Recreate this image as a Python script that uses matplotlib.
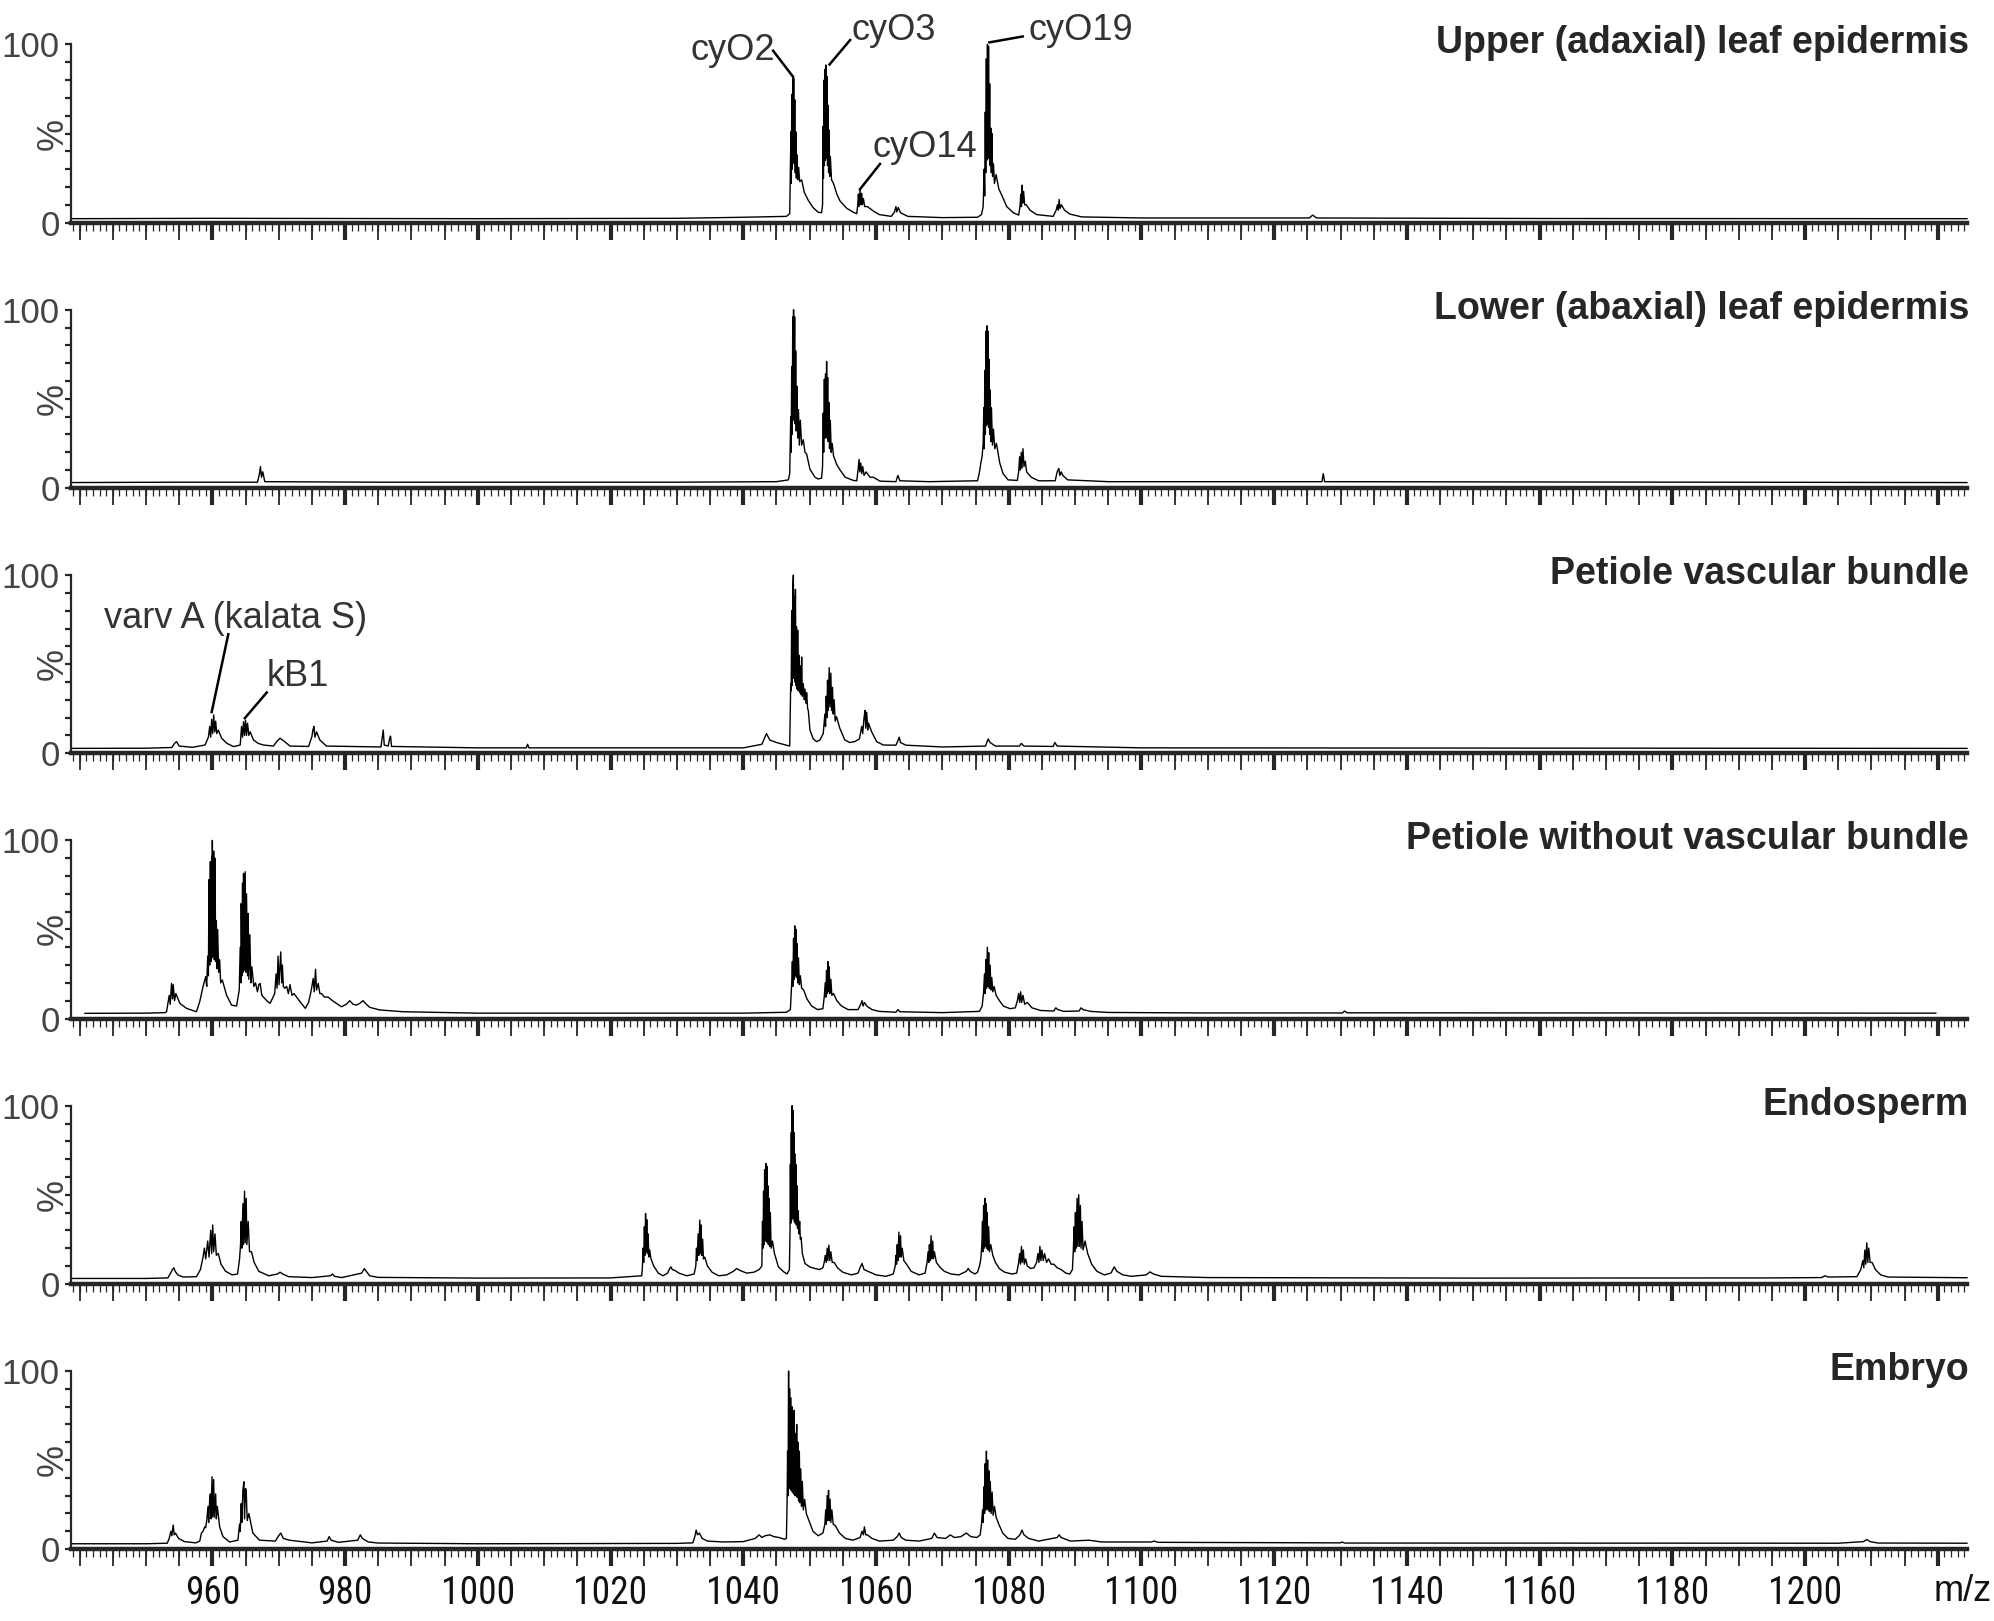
import matplotlib
matplotlib.use('Agg')
import matplotlib.pyplot as plt
from matplotlib import font_manager
from matplotlib.ticker import MultipleLocator, FixedLocator

plt.rcParams['font.family'] = ['Liberation Sans', 'DejaVu Sans']

# m/z range of all panels
mz_min, mz_max = 938.7, 1224.4

# spectra as (m/z, relative intensity %)
upper_epidermis = [
    (938.7, 2.2), (960, 2.4), (1000, 2.2), (1030, 2.4), (1040, 3), (1046.5, 3.5), (1047.0, 5),
    (1047.1, 30), (1047.18, 51), (1047.24, 22), (1047.32, 72), (1047.38, 30), (1047.46, 82), (1047.52, 35),
    (1047.6, 81), (1047.68, 33), (1047.76, 69), (1047.84, 28), (1047.92, 51), (1048.0, 25), (1048.1, 38),
    (1048.2, 24), (1048.35, 31), (1048.5, 23), (1048.8, 24), (1049.2, 17), (1049.8, 12.5), (1050.5, 8.5),
    (1051.3, 5.8), (1051.8, 5.5),
    (1051.95, 10), (1052.02, 54), (1052.08, 25), (1052.16, 80), (1052.22, 32), (1052.3, 86), (1052.37, 35),
    (1052.46, 88.5), (1052.54, 36), (1052.62, 82), (1052.7, 32), (1052.78, 66), (1052.86, 28), (1052.94, 52),
    (1053.02, 26), (1053.12, 37), (1053.3, 24), (1053.6, 22), (1054.1, 16), (1054.6, 12), (1055.6, 8),
    (1056.6, 5.8), (1057.1, 5),
    (1057.25, 10), (1057.35, 16), (1057.45, 9), (1057.6, 18.5), (1057.7, 10), (1057.85, 16.5), (1057.95, 10),
    (1058.1, 13.5), (1058.3, 9), (1058.7, 9), (1059.6, 6.5), (1060.5, 4.5), (1062.3, 3.5),
    (1062.8, 6), (1063.0, 9), (1063.15, 6), (1063.35, 8.5), (1063.7, 5.5), (1064.8, 3.5), (1070, 2.8),
    (1075.3, 3), (1075.9, 4.5),
    (1076.15, 9), (1076.3, 30), (1076.38, 15), (1076.47, 62), (1076.54, 28), (1076.63, 92), (1076.7, 35),
    (1076.8, 100), (1076.88, 38), (1076.96, 99), (1077.04, 36), (1077.13, 78), (1077.21, 32), (1077.3, 53),
    (1077.38, 28), (1077.47, 50), (1077.57, 26), (1077.7, 33), (1077.85, 22), (1078.1, 27), (1078.5, 19),
    (1079.0, 15), (1079.7, 9), (1080.7, 5.5), (1081.5, 4.2),
    (1081.7, 9), (1081.82, 16), (1081.92, 9), (1082.02, 21), (1082.12, 11), (1082.25, 17.5), (1082.4, 10),
    (1082.65, 10), (1083.2, 7), (1084.2, 4.5), (1086.7, 3.5),
    (1087.15, 7), (1087.35, 10), (1087.48, 7), (1087.6, 13), (1087.75, 8), (1087.95, 10), (1088.4, 7),
    (1089.2, 4.8), (1091, 3.2), (1100, 2.6), (1125.3, 2.6), (1125.8, 4.2), (1126.4, 2.6), (1160, 2.3),
    (1224.4, 2.2),
]

lower_epidermis = [
    (938.7, 3), (955, 3.2), (966.8, 3.2), (967.1, 8), (967.25, 12), (967.4, 6), (967.6, 9), (967.9, 3.5),
    (985, 3.2), (1000, 3.2), (1030, 3.2), (1045, 3.5), (1046.8, 4.5),
    (1047.0, 8), (1047.15, 40), (1047.22, 20), (1047.3, 68), (1047.37, 30), (1047.46, 96), (1047.52, 38),
    (1047.58, 100), (1047.65, 40), (1047.74, 96), (1047.82, 36), (1047.9, 77), (1047.98, 32), (1048.1, 57),
    (1048.2, 28), (1048.32, 44), (1048.45, 24), (1048.6, 38), (1048.8, 24), (1049.05, 27), (1049.3, 20),
    (1049.55, 19), (1050.05, 10.5), (1050.8, 6), (1051.3, 5), (1051.8, 5.5),
    (1051.95, 12), (1052.05, 42), (1052.12, 20), (1052.22, 61), (1052.3, 28), (1052.4, 64), (1052.47, 28),
    (1052.56, 71), (1052.64, 30), (1052.72, 62), (1052.8, 26), (1052.9, 48), (1053.0, 22), (1053.12, 38),
    (1053.25, 20), (1053.4, 25), (1053.6, 18), (1054.1, 13), (1054.6, 10), (1055.35, 6), (1056.6, 4.2),
    (1057.1, 4),
    (1057.3, 10), (1057.45, 16), (1057.55, 9), (1057.7, 14), (1057.85, 8), (1058.0, 12), (1058.2, 7),
    (1058.5, 9), (1059.1, 6), (1059.6, 6), (1060.6, 3.8), (1063.0, 3.5), (1063.3, 7), (1063.6, 4),
    (1068, 3.5), (1075.3, 4), (1075.6, 9), (1075.8, 14), (1076.0, 18),
    (1076.15, 25), (1076.25, 45), (1076.32, 22), (1076.4, 66), (1076.48, 30), (1076.57, 88), (1076.64, 35),
    (1076.72, 91), (1076.8, 36), (1076.88, 88), (1076.96, 34), (1077.05, 72), (1077.13, 30), (1077.22, 55),
    (1077.3, 26), (1077.4, 45), (1077.55, 24), (1077.7, 33), (1077.9, 22), (1078.15, 25), (1078.65, 14),
    (1079.15, 8), (1079.9, 4.5), (1081.3, 4.2),
    (1081.5, 9), (1081.65, 17.5), (1081.75, 10), (1081.9, 20), (1082.0, 11), (1082.15, 22), (1082.3, 12),
    (1082.5, 15), (1082.7, 9), (1083.4, 6), (1084.5, 4), (1087.0, 4), (1087.3, 9), (1087.55, 11),
    (1087.7, 7), (1087.9, 9), (1088.15, 7), (1088.9, 4.5), (1095, 3.5), (1127.2, 3.5), (1127.4, 8),
    (1127.6, 3.5), (1224.4, 3),
]

petiole_vascular = [
    (938.7, 2.7), (950, 2.8), (953.9, 3.2), (954.3, 5.5), (954.6, 6.5), (955.0, 4), (957, 3.3), (958.9, 4.6),
    (959.4, 9), (959.6, 15), (959.75, 9), (959.9, 19), (960.05, 11), (960.2, 21.5), (960.35, 12),
    (960.5, 18), (960.65, 11), (960.9, 13), (961.4, 8.4), (962.2, 5.5), (963.2, 3.7), (964.2, 4.6),
    (964.4, 15), (964.55, 9), (964.7, 17.7), (964.85, 10), (965.0, 18.6), (965.15, 10), (965.3, 16.8),
    (965.5, 10), (965.7, 12), (966.2, 7.4), (966.9, 5.5), (967.7, 4.6), (969.2, 4), (969.7, 6.5),
    (970.2, 8.4), (970.9, 6.5), (971.7, 4), (974.5, 3.8), (975.0, 9.3), (975.15, 13), (975.3, 15),
    (975.45, 9), (975.7, 12), (976.2, 7.4), (977.2, 4), (985.4, 3.5), (985.6, 9), (985.75, 13),
    (985.9, 4.6), (986.5, 4), (986.7, 8), (986.85, 9.6), (987.0, 3.8), (1000, 3), (1007.3, 3),
    (1007.5, 5), (1007.7, 3), (1040, 3), (1042.8, 5), (1043.5, 11), (1044.0, 7.4), (1045, 6),
    (1046.5, 4.5), (1047.0, 4),
    (1047.1, 25), (1047.15, 39), (1047.22, 35), (1047.3, 80), (1047.38, 38), (1047.46, 92), (1047.55, 100),
    (1047.62, 42), (1047.7, 88), (1047.78, 40), (1047.86, 92), (1047.94, 38), (1048.02, 71), (1048.12, 36),
    (1048.2, 69), (1048.3, 35), (1048.4, 55), (1048.5, 34), (1048.6, 49), (1048.7, 33), (1048.8, 54),
    (1048.9, 32), (1049.05, 39), (1049.2, 30), (1049.3, 36), (1049.45, 28), (1049.55, 34), (1049.7, 25),
    (1049.8, 24), (1050.05, 13), (1050.55, 8), (1051.05, 6.5), (1051.55, 7.4),
    (1052.05, 11), (1052.3, 22), (1052.4, 15), (1052.5, 32), (1052.6, 20), (1052.7, 41), (1052.8, 24),
    (1052.95, 48), (1053.05, 26), (1053.2, 45), (1053.3, 24), (1053.45, 37), (1053.55, 22), (1053.7, 30),
    (1053.85, 18), (1054.05, 20.5), (1054.55, 14), (1055.3, 7.4), (1056.05, 6), (1056.8, 6.5), (1057.5, 8),
    (1057.85, 15), (1058.0, 11), (1058.2, 20), (1058.35, 24), (1058.45, 14), (1058.6, 23), (1058.75, 13),
    (1058.85, 17), (1059.35, 12), (1060.1, 6.5), (1061.1, 4.6), (1063.0, 4.5), (1063.3, 7), (1063.5, 9),
    (1063.7, 6), (1064.5, 4.5), (1070, 3.5), (1076.5, 4), (1076.8, 7), (1076.9, 8), (1077.2, 6),
    (1078, 4), (1081.6, 4), (1081.9, 5.5), (1082.3, 4), (1086.7, 3.8), (1086.95, 6), (1087.3, 4),
    (1100, 3), (1224.4, 2.7),
]

petiole_no_vascular = [
    (940.8, 2.9), (950, 3.0), (952.9, 3.3), (953.1, 3.8), (953.5, 13), (953.65, 8), (953.85, 19.7),
    (954.0, 11), (954.1, 19), (954.3, 10), (954.5, 14), (955.1, 8.5), (956.1, 5.7), (957.6, 3.8),
    (958.1, 9.5), (958.6, 18), (959.0, 23.5), (959.15, 18), (959.3, 35), (959.4, 24), (959.5, 78),
    (959.6, 30), (959.7, 88), (959.8, 32), (959.9, 91), (959.95, 34), (960.0, 100), (960.1, 35),
    (960.2, 94), (960.3, 33), (960.4, 90), (960.5, 32), (960.6, 55), (960.7, 28), (960.8, 50),
    (960.95, 26), (961.1, 33), (961.25, 20), (961.5, 21.6), (962.15, 13), (962.9, 7.5), (963.65, 7),
    (964.05, 16),
    (964.2, 40), (964.3, 20), (964.35, 64.6), (964.45, 24), (964.55, 76), (964.62, 26), (964.7, 81.5),
    (964.8, 27), (964.95, 82.4), (965.05, 26), (965.15, 70), (965.3, 24), (965.4, 59), (965.5, 22),
    (965.65, 47), (965.8, 20), (965.95, 29), (966.25, 18), (966.5, 20), (966.8, 15), (967.0, 19),
    (967.2, 19.7), (967.45, 13), (967.7, 12), (968.2, 10), (968.7, 8.5), (969.4, 14), (969.6, 25),
    (969.75, 17), (969.9, 35), (970.05, 19), (970.3, 37.4), (970.45, 20), (970.55, 30), (970.7, 18),
    (970.9, 17), (971.2, 18), (971.45, 14), (971.7, 19), (972.0, 13), (972.3, 14), (973.2, 9.5),
    (974.0, 5.7), (974.5, 9), (974.8, 14), (975.0, 18), (975.2, 22.5), (975.35, 15), (975.55, 27.6),
    (975.7, 16), (975.95, 19.7), (976.2, 14), (976.45, 14), (976.9, 12), (977.45, 12), (978.1, 10),
    (978.7, 8.5), (979.45, 6.6), (980.2, 8), (980.7, 10), (981.2, 8), (981.7, 7.5), (982.2, 8.5),
    (982.7, 10), (983.2, 8), (983.7, 6.3), (985.2, 4.8), (988.75, 3.8), (1000, 3.0), (1040, 3.0),
    (1046.5, 3.5), (1047.1, 5),
    (1047.3, 20), (1047.4, 32), (1047.48, 18), (1047.58, 45), (1047.66, 22), (1047.76, 52), (1047.84, 24),
    (1047.94, 50), (1048.02, 23), (1048.12, 42), (1048.22, 20), (1048.32, 34), (1048.45, 19), (1048.6, 24),
    (1048.8, 17), (1049.1, 16), (1049.6, 11), (1050.3, 7), (1051.2, 5), (1052.0, 5.5),
    (1052.2, 12), (1052.35, 20), (1052.45, 12), (1052.55, 27), (1052.65, 14), (1052.75, 32), (1052.85, 15),
    (1052.95, 29), (1053.05, 14), (1053.2, 22), (1053.35, 13), (1053.6, 14), (1054.1, 10), (1054.8, 7),
    (1055.8, 5), (1057.3, 5),
    (1057.7, 8), (1057.9, 10), (1058.05, 7), (1058.25, 9), (1058.6, 7), (1059.4, 5), (1060.5, 4),
    (1063.0, 3.5), (1063.3, 5), (1063.6, 3.8), (1070, 3.3), (1075.6, 4), (1076.0, 7),
    (1076.2, 14), (1076.35, 25), (1076.45, 14), (1076.55, 33), (1076.65, 17), (1076.78, 40), (1076.88, 18),
    (1076.98, 37), (1077.08, 17), (1077.2, 30), (1077.32, 16), (1077.45, 23), (1077.6, 15), (1077.8, 18),
    (1078.1, 13), (1078.6, 10), (1079.2, 7), (1080.2, 5.5), (1081.0, 6),
    (1081.3, 10), (1081.5, 14), (1081.65, 9), (1081.8, 15), (1081.95, 9), (1082.15, 13), (1082.4, 8),
    (1082.8, 9), (1083.5, 6), (1084.8, 4.5), (1086.8, 4.2), (1087.1, 6), (1087.4, 5), (1088.3, 4),
    (1090.6, 4.2), (1090.9, 6), (1091.2, 5), (1092.3, 4), (1095, 3.4), (1110, 3.1), (1130.3, 3.1),
    (1130.6, 4.2), (1131.0, 3.2), (1219.7, 3.0),
]

endosperm = [
    (938.7, 3.0), (950, 3.0), (953.3, 3.3), (953.7, 6), (954.0, 8), (954.2, 9), (954.4, 7), (954.8, 5),
    (955.6, 3.8), (957.6, 4), (958.2, 8), (958.6, 15), (958.8, 20), (959.0, 14), (959.3, 24), (959.5, 15),
    (959.75, 30), (959.9, 17), (960.05, 33), (960.2, 18), (960.4, 28), (960.6, 16), (960.9, 17),
    (961.3, 11), (962.0, 7), (963.0, 5), (963.8, 5.5), (964.1, 14), (964.25, 22), (964.35, 35),
    (964.45, 20), (964.6, 45), (964.7, 22), (964.85, 52), (964.95, 23), (965.1, 48), (965.2, 22),
    (965.4, 35), (965.6, 18), (965.9, 18), (966.3, 12), (967, 7), (968.5, 4.5), (969.8, 5.5),
    (970.2, 6.5), (970.6, 5.5), (971.5, 4), (975, 3.5), (977.8, 4.5), (978.1, 5.5), (978.4, 4.2),
    (979.5, 3.5), (982.5, 6), (982.9, 8.5), (983.2, 7), (983.7, 4.5), (985, 3.6), (1000, 3.2),
    (1020, 3.3), (1024.7, 4.5),
    (1024.8, 9), (1024.9, 20), (1025.0, 12), (1025.1, 32), (1025.18, 16), (1025.28, 39.5), (1025.36, 18),
    (1025.46, 36), (1025.56, 17), (1025.66, 28), (1025.78, 15), (1025.9, 19), (1026.1, 14), (1026.5, 10),
    (1027.2, 6), (1027.9, 4.5),
    (1028.6, 6), (1028.9, 8.5), (1029.1, 9.5), (1029.3, 8), (1029.7, 7.5), (1030.3, 6), (1031.5, 4.5),
    (1032.6, 5.5),
    (1032.85, 10), (1032.95, 20), (1033.05, 13), (1033.2, 28), (1033.3, 16), (1033.45, 35.8), (1033.55, 17),
    (1033.65, 33), (1033.75, 16), (1033.88, 25), (1034.0, 14), (1034.2, 15), (1034.6, 10), (1035.3, 6.5),
    (1036.3, 4.5), (1037.5, 5), (1038.5, 7), (1039.0, 8.6), (1039.5, 7.5), (1040.5, 6), (1041.6, 6.5),
    (1042.4, 8), (1042.8, 10),
    (1042.9, 35), (1042.98, 20), (1043.06, 52), (1043.14, 22), (1043.22, 64), (1043.3, 24), (1043.4, 67.6),
    (1043.48, 24), (1043.56, 66), (1043.64, 23), (1043.72, 55), (1043.8, 22), (1043.88, 48), (1043.98, 21),
    (1044.08, 40), (1044.2, 20), (1044.4, 24), (1044.7, 17), (1045.3, 9.5), (1046.1, 6.7), (1046.6, 5.5),
    (1046.95, 8),
    (1047.05, 30), (1047.1, 67), (1047.16, 34), (1047.24, 85), (1047.3, 36), (1047.36, 100), (1047.42, 38),
    (1047.48, 97.5), (1047.55, 37), (1047.62, 85), (1047.7, 35), (1047.76, 73), (1047.84, 34), (1047.92, 67),
    (1048.0, 33), (1048.1, 55), (1048.18, 31), (1048.28, 41), (1048.38, 28), (1048.5, 35), (1048.6, 25),
    (1048.72, 26), (1048.9, 17), (1049.3, 11.4), (1050.0, 9.5), (1050.8, 8.6), (1051.5, 8), (1052.0, 9),
    (1052.2, 12), (1052.35, 16), (1052.5, 12), (1052.65, 20), (1052.75, 13), (1052.9, 21.7), (1053.05, 13),
    (1053.2, 18), (1053.4, 12), (1053.7, 12), (1054.2, 9), (1055.0, 6.5), (1056.3, 5), (1057.3, 6),
    (1057.6, 9), (1057.9, 11.4), (1058.2, 8), (1058.8, 7), (1060.0, 5), (1061.5, 4.2), (1062.6, 5.5),
    (1062.9, 10),
    (1063.0, 16), (1063.1, 11), (1063.2, 22), (1063.3, 13), (1063.45, 29), (1063.55, 15), (1063.7, 27),
    (1063.8, 15), (1063.95, 20), (1064.2, 13), (1064.6, 11), (1065.3, 7), (1066.5, 5), (1067.4, 6),
    (1067.7, 12),
    (1067.85, 18), (1067.95, 12), (1068.05, 22), (1068.15, 13), (1068.3, 27), (1068.4, 14), (1068.55, 24),
    (1068.65, 14), (1068.8, 18), (1069.1, 12), (1069.6, 9.5), (1070.3, 7), (1071.3, 5.5), (1072.5, 5),
    (1073.6, 7), (1073.9, 8.6), (1074.2, 7), (1074.9, 5.5), (1075.3, 6.5), (1075.6, 10), (1075.8, 14),
    (1075.95, 22), (1076.05, 35), (1076.12, 18), (1076.22, 44), (1076.3, 20), (1076.4, 48), (1076.48, 21),
    (1076.58, 45), (1076.66, 20), (1076.76, 40), (1076.86, 19), (1076.98, 32), (1077.1, 18), (1077.3, 22),
    (1077.6, 16), (1078.0, 12), (1078.6, 8.5), (1079.4, 6.5), (1080.5, 5.5), (1081.2, 6),
    (1081.5, 12), (1081.65, 17), (1081.78, 11), (1081.92, 21), (1082.05, 12), (1082.2, 19), (1082.35, 11),
    (1082.55, 14), (1082.8, 10), (1083.3, 8.6), (1083.8, 9),
    (1084.2, 12), (1084.4, 17), (1084.55, 12), (1084.7, 21), (1084.85, 13), (1085.0, 19), (1085.2, 13),
    (1085.4, 17), (1085.7, 12), (1086.0, 14), (1086.4, 11), (1086.8, 11), (1087.3, 9), (1087.9, 8),
    (1088.6, 6), (1089.2, 5.5), (1089.6, 8),
    (1089.75, 20), (1089.85, 32), (1089.95, 18), (1090.05, 40), (1090.15, 20), (1090.3, 48), (1090.4, 21),
    (1090.55, 50), (1090.65, 21), (1090.8, 44), (1090.9, 20), (1091.05, 35), (1091.2, 19), (1091.5, 24),
    (1091.9, 17), (1092.5, 11), (1093.3, 7), (1094.4, 5), (1095.4, 6), (1095.9, 9.5), (1096.3, 7),
    (1097.2, 5), (1098.5, 4.2), (1100.7, 5), (1101.3, 6.7), (1101.8, 5.5), (1103, 4.2), (1110, 3.5),
    (1150, 3.2), (1195, 3.3), (1202.5, 3.5), (1203.0, 4.5), (1203.5, 3.8), (1207.8, 4), (1208.4, 8),
    (1208.7, 13), (1208.85, 9), (1209.0, 19), (1209.15, 11), (1209.3, 23), (1209.45, 12), (1209.6, 20),
    (1209.8, 12), (1210.1, 12), (1210.6, 8), (1211.4, 5), (1212.5, 3.8), (1224.4, 3.4),
]

embryo = [
    (938.7, 3.0), (950, 3.0), (953.2, 3.3), (953.5, 6), (953.75, 10), (953.9, 7.5), (954.1, 13.5),
    (954.25, 8), (954.45, 9), (954.9, 6), (955.8, 4.2), (957.5, 3.5), (958.1, 4.5), (958.35, 9),
    (958.6, 10), (958.85, 12.5), (959.0, 12), (959.15, 16), (959.35, 24), (959.45, 15), (959.6, 28),
    (959.7, 31), (959.8, 17), (959.95, 40.6), (960.05, 18), (960.2, 39), (960.3, 18), (960.5, 31),
    (960.6, 17), (960.75, 24), (961.1, 12.5), (961.6, 7), (962.6, 4), (963.85, 5), (964.1, 14),
    (964.2, 10), (964.35, 25.6), (964.45, 15), (964.6, 33), (964.75, 37.8), (964.85, 17), (965.0, 34),
    (965.1, 33), (965.25, 16), (965.5, 20), (966.1, 9), (967.1, 5), (969.5, 4.5), (969.9, 7),
    (970.3, 9), (970.7, 6), (971.6, 5), (975, 3.5), (977.3, 4.5), (977.6, 7), (977.9, 5), (979, 3.8),
    (981.9, 5), (982.3, 8), (982.6, 6), (983.5, 4), (985, 3.4), (1000, 3.0), (1030, 3.2), (1032.4, 3.5),
    (1032.7, 7), (1032.9, 10.7), (1033.1, 8), (1033.4, 9), (1033.8, 6), (1034.6, 4.5), (1037, 4),
    (1040, 4.2), (1041.8, 6), (1042.4, 8), (1042.8, 6.5), (1043.3, 7.5), (1044.0, 8), (1044.6, 7),
    (1045.4, 6.5), (1046.2, 5.5), (1046.5, 6),
    (1046.6, 25), (1046.68, 55), (1046.75, 30), (1046.83, 100), (1046.9, 35), (1046.98, 90), (1047.05, 34),
    (1047.14, 85), (1047.22, 33), (1047.32, 80), (1047.4, 32), (1047.5, 75), (1047.58, 31), (1047.68, 78),
    (1047.76, 30), (1047.86, 65), (1047.95, 30), (1048.05, 70), (1048.14, 29), (1048.24, 60), (1048.34, 27),
    (1048.45, 55), (1048.55, 26), (1048.66, 45), (1048.78, 24), (1048.9, 38), (1049.05, 22), (1049.25, 28),
    (1049.5, 20), (1049.9, 16), (1050.5, 10), (1051.3, 7.5), (1052.0, 9),
    (1052.3, 14), (1052.42, 22), (1052.52, 14), (1052.65, 30), (1052.75, 16), (1052.85, 33), (1052.95, 16),
    (1053.08, 28), (1053.2, 15), (1053.35, 22), (1053.55, 14), (1053.9, 13), (1054.5, 9), (1055.4, 6),
    (1056.5, 5), (1057.6, 6.5), (1057.9, 10), (1058.1, 8), (1058.25, 12.5), (1058.45, 8), (1058.7, 8),
    (1059.4, 6), (1060.5, 4.5), (1062.6, 5), (1063.2, 7), (1063.5, 9), (1063.8, 6.5), (1064.5, 5),
    (1066.5, 4.5), (1068.4, 6), (1068.8, 9), (1069.2, 6.5), (1070.5, 6), (1071.2, 8), (1071.8, 6.5),
    (1072.8, 7), (1073.6, 9), (1074.3, 7), (1075.2, 6.5), (1075.7, 8),
    (1075.9, 14), (1076.05, 22), (1076.15, 15), (1076.28, 35), (1076.36, 20), (1076.46, 48), (1076.54, 22),
    (1076.64, 55), (1076.72, 23), (1076.82, 50), (1076.9, 22), (1077.0, 44), (1077.1, 21), (1077.22, 38),
    (1077.35, 20), (1077.5, 32), (1077.65, 19), (1077.85, 24), (1078.1, 18), (1078.5, 14), (1079.1, 9),
    (1079.9, 6), (1081.0, 5.5), (1081.7, 8), (1082.0, 10.7), (1082.3, 8), (1083.0, 6), (1084.5, 4.5),
    (1087.3, 6.5), (1087.6, 8), (1087.9, 6.5), (1089.3, 4.5), (1092.1, 5), (1094, 4), (1101.5, 4),
    (1101.9, 4.5), (1102.5, 3.8), (1130.0, 3.5), (1130.2, 4), (1130.6, 3.4), (1180, 3.3), (1205, 3.3),
    (1208.8, 4.2), (1209.3, 5.4), (1209.8, 4.2), (1211, 3.4), (1224.4, 3.3),
]

panel_titles = [
    'Upper (adaxial) leaf epidermis',
    'Lower (abaxial) leaf epidermis',
    'Petiole vascular bundle',
    'Petiole without vascular bundle',
    'Endosperm',
    'Embryo',
]
spectra = [upper_epidermis, lower_epidermis, petiole_vascular,
           petiole_no_vascular, endosperm, embryo]

# peak labels: (text, text centre, leader start, leader end at peak)
upper_labels = [
    ('cyO2', (1038.4, 96.4), (1044.5, 96.5), (1047.5, 81.9)),
    ('cyO3', (1062.6, 107.6), (1056.1, 102.5), (1053.0, 88.8)),
    ('cyO14', (1067.4, 41.9), (1060.6, 32.9), (1057.6, 18.8)),
    ('cyO19', (1090.8, 107.6), (1082.1, 104.5), (1077.1, 101.2)),
]
petiole_labels = [
    ('varv A (kalata S)', (963.5, 75.5), (962.4, 66.8), (959.9, 23.1)),
    ('kB1', (972.9, 43.1), (968.2, 34.1), (964.9, 19.7)),
]
peak_labels = {0: upper_labels, 2: petiole_labels}

major_ticks = list(range(960, 1221, 20))
major_labels = [str(t) for t in major_ticks[:-1]] + ['']

# a condensed face for the m/z tick labels, if one is installed
installed = {f.name for f in font_manager.fontManager.ttflist}
narrow = [n for n in ('Liberation Sans Narrow', 'Roboto Condensed', 'Open Sans Condensed',
                      'DejaVu Sans Condensed') if n in installed]
tick_font = dict(family=narrow[0], stretch='condensed') if narrow else dict(family='Liberation Sans')

dark = '#262626'
W, H = 1994, 1621
fig = plt.figure(figsize=(W / 100, H / 100), dpi=100)

left, right = 71 / W, 1967 / W
for i, (title, spec) in enumerate(zip(panel_titles, spectra)):
    y0 = 222.6 + 265.3 * i
    ax = fig.add_axes([left, 1 - y0 / H, right - left, 178.1 / H])
    mz, inten = zip(*spec)
    ax.plot(mz, inten, color='black', lw=1.0, clip_on=False)

    ax.set_xlim(mz_min, mz_max)
    ax.set_ylim(0, 100)
    for side in ('top', 'right'):
        ax.spines[side].set_visible(False)
    ax.spines['left'].set_linewidth(1.6)
    ax.spines['bottom'].set_linewidth(3.2)
    ax.spines['left'].set_color(dark)
    ax.spines['bottom'].set_color(dark)

    ax.xaxis.set_major_locator(FixedLocator(major_ticks))
    ax.xaxis.set_minor_locator(MultipleLocator(1))
    ax.tick_params(axis='x', which='major', direction='out', length=12.5, width=3.0,
                   color=dark, pad=6, labelsize=27, labelcolor='#111111')
    ax.tick_params(axis='x', which='minor', direction='out', length=6, width=0.9, color=dark)
    ax.set_xticklabels(major_labels, **tick_font)
    if i < len(panel_titles) - 1:
        ax.tick_params(axis='x', labelbottom=False)

    # medium ticks every 5 m/z
    sec = ax.secondary_xaxis('bottom')
    sec.spines['bottom'].set_visible(False)
    sec.xaxis.set_major_locator(MultipleLocator(5))
    sec.tick_params(axis='x', direction='out', length=12.5, width=1.3, color=dark,
                    labelbottom=False)

    ax.yaxis.set_major_locator(MultipleLocator(10))
    ax.set_yticklabels(['0' if v == 0 else '100' if v == 100 else ''
                        for v in ax.get_yticks()])
    ax.tick_params(axis='y', direction='out', length=4, width=1.6, color=dark,
                   pad=4, labelsize=25, labelcolor='#444444')
    ax.text(-0.0095, 0.5, '%', rotation=90, transform=ax.transAxes, ha='center',
            va='center', fontsize=26, color='#444444')

    ax.text(1.001, 0.95, title, transform=ax.transAxes, ha='right', va='baseline',
            fontsize=27, fontweight='bold', color=dark)

    for text, txy, p0, p1 in peak_labels.get(i, []):
        ax.plot([p0[0], p1[0]], [p0[1], p1[1]], color='black', lw=1.8, clip_on=False)
        ax.text(txy[0], txy[1], text, ha='center', va='center', fontsize=26,
                color='#333333', clip_on=False)

    if i == len(panel_titles) - 1:
        ax.text(1223.7, -0.236, 'm/z', transform=ax.get_xaxis_transform(),
                ha='center', va='center', fontsize=26, color='#111111')

fig.savefig('out.png', dpi=100)
